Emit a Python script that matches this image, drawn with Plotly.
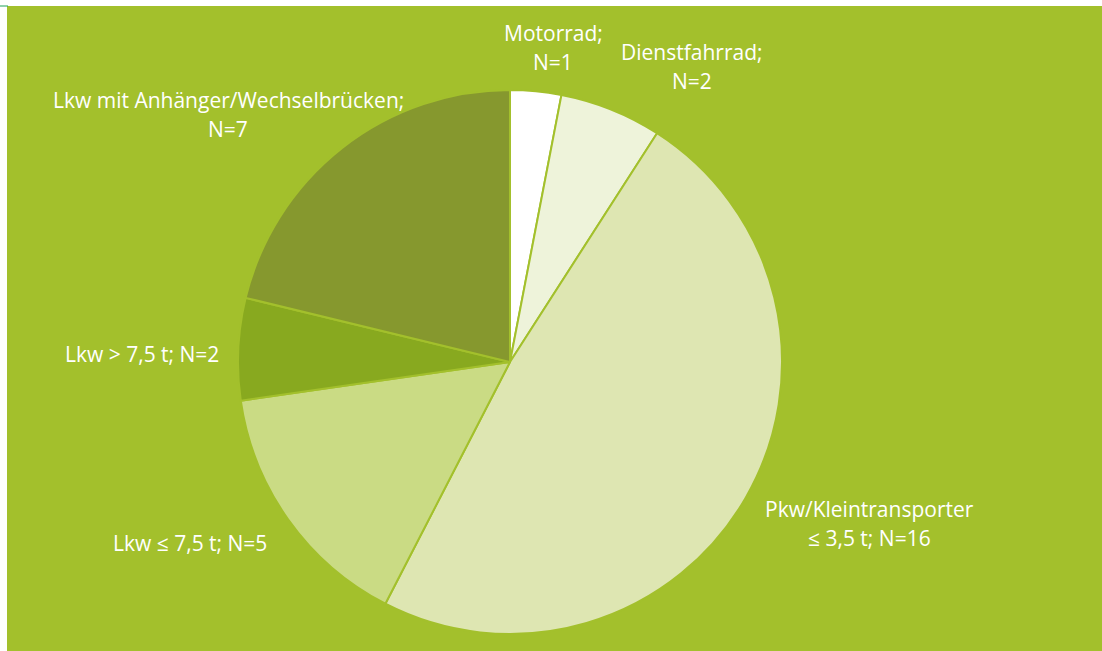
import plotly.graph_objects as go

# Fahrzeugtypen und Anzahl
categories = [
    "Motorrad",
    "Dienstfahrrad",
    "Pkw/Kleintransporter ≤ 3,5 t",
    "Lkw ≤ 7,5 t",
    "Lkw > 7,5 t",
    "Lkw mit Anhänger/Wechselbrücken",
]
counts = [1, 2, 16, 5, 2, 7]
slice_colors = ["#FFFFFF", "#EEF3DA", "#DEE6B2", "#CADB84", "#88A91F", "#86982E"]

# Beschriftungszeilen je Segment (Zeilen, Mittelpunkt x, y der ersten Zeile in px)
label_lines = [
    (["Motorrad;", f"N={counts[0]}"], 553, 33),
    (["Dienstfahrrad;", f"N={counts[1]}"], 692, 52),
    (["Pkw/Kleintransporter", f"≤ 3,5 t; N={counts[2]}"], 869, 509),
    ([f"Lkw ≤ 7,5 t; N={counts[3]}"], 190, 543),
    ([f"Lkw > 7,5 t; N={counts[4]}"], 142, 354),
    (["Lkw mit Anhänger/Wechselbrücken;", f"N={counts[5]}"], 228, 100),
]

W, H = 1102, 651
BG = "#A3C02C"
FONT = "Open Sans"

cx, cy, r = 510, 362, 272

fig = go.Figure(
    go.Pie(
        labels=categories,
        values=counts,
        sort=False,
        direction="clockwise",
        rotation=0,
        marker=dict(colors=slice_colors, line=dict(color=BG, width=2)),
        textinfo="none",
        hoverinfo="label+value",
        showlegend=False,
        domain=dict(
            x=[(cx - r) / W, (cx + r) / W],
            y=[1 - (cy + r) / H, 1 - (cy - r) / H],
        ),
    )
)

annotations = []
for lines, x, y in label_lines:
    for i, line in enumerate(lines):
        annotations.append(
            dict(
                x=x / W,
                y=1 - (y + i * 29) / H,
                xref="paper",
                yref="paper",
                text=line,
                showarrow=False,
                xanchor="center",
                yanchor="middle",
                font=dict(family=FONT, size=21, color="white"),
            )
        )

fig.update_layout(
    width=W,
    height=H,
    margin=dict(l=0, r=0, t=0, b=0),
    paper_bgcolor="white",
    plot_bgcolor="white",
    shapes=[
        dict(
            type="rect",
            xref="paper",
            yref="paper",
            x0=7 / W,
            x1=1,
            y0=0,
            y1=1 - 6 / H,
            fillcolor=BG,
            line=dict(width=0),
            layer="below",
        ),
        dict(
            type="line",
            xref="paper",
            yref="paper",
            x0=0,
            x1=8 / W,
            y0=1 - 6 / H,
            y1=1 - 6 / H,
            line=dict(color="#1FA35A", width=1),
        ),
    ],
    annotations=annotations,
)

fig.write_html("out.html")
